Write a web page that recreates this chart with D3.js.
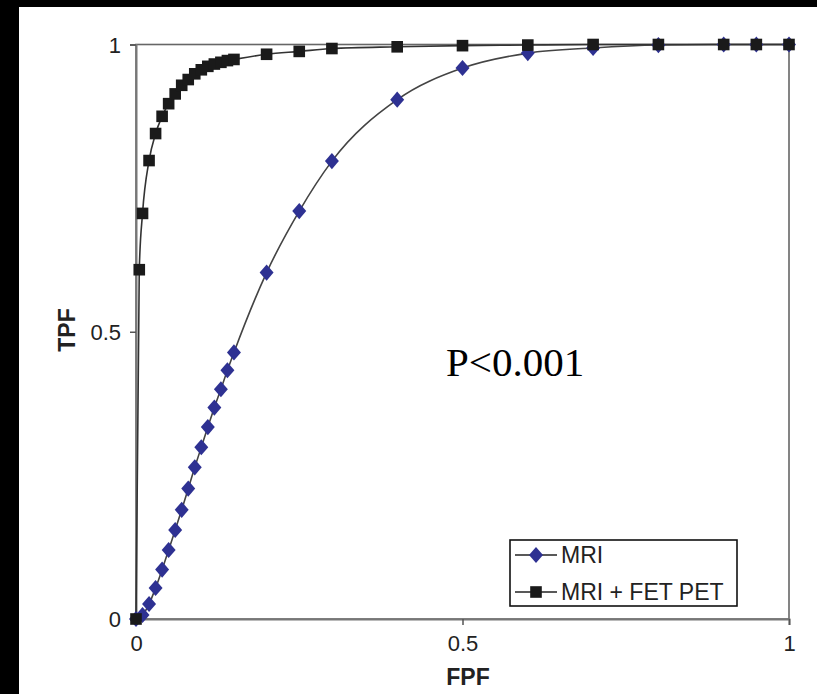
<!DOCTYPE html>
<html>
<head>
<meta charset="utf-8">
<script src="https://cdn.jsdelivr.net/npm/d3@7"></script>
<style>
  body { margin: 0; background: #fff; }
  svg { display: block; }
</style>
</head>
<body>
<div id="chart"></div>
<script>
// FPF / TPF points
const fpfPet = [0, 0.005, 0.01, 0.02, 0.03, 0.04, 0.05, 0.06, 0.07, 0.08, 0.09, 0.10, 0.11, 0.12, 0.13, 0.14, 0.15, 0.2, 0.25, 0.3, 0.4, 0.5, 0.6, 0.7, 0.8, 0.9, 0.95, 1.0];
const tpfPet = [0, 0.608, 0.706, 0.798, 0.845, 0.875, 0.897, 0.914, 0.929, 0.939, 0.949, 0.956, 0.962, 0.966, 0.969, 0.972, 0.974, 0.983, 0.988, 0.993, 0.996, 0.998, 0.999, 1, 1, 1, 1, 1];

const fpfMri = [0, 0.01, 0.02, 0.03, 0.04, 0.05, 0.06, 0.07, 0.08, 0.09, 0.10, 0.11, 0.12, 0.13, 0.14, 0.15, 0.2, 0.25, 0.3, 0.4, 0.5, 0.6, 0.7, 0.8, 0.9, 0.95, 1.0];
const tpfMri = [0, 0.007, 0.026, 0.054, 0.086, 0.12, 0.155, 0.19, 0.227, 0.264, 0.299, 0.334, 0.368, 0.40, 0.433, 0.464, 0.603, 0.71, 0.797, 0.904, 0.959, 0.985, 0.994, 0.999, 1, 1, 1];

const tickValues = [0, 0.5, 1];
const tickLabels = ["0", "0.5", "1"];
const seriesNames = ["MRI", "MRI + FET PET"];

const width = 817, height = 694;
const sans = "'Liberation Sans', Arial, sans-serif";

let svg = d3.select("#chart").append("svg")
    .attr("width", width)
    .attr("height", height);

svg.append("rect").attr("width", width).attr("height", height).attr("fill", "#fff");
// black scan border top/left
svg.append("rect").attr("x", 0).attr("y", 0).attr("width", width).attr("height", 7).attr("fill", "#000");
svg.append("rect").attr("x", 0).attr("y", 0).attr("width", 19).attr("height", height).attr("fill", "#000");

const x = d3.scaleLinear().domain([0, 1]).range([136, 789]);
const y = d3.scaleLinear().domain([0, 1]).range([619, 44.5]);

// plot frame
svg.append("rect")
    .attr("x", x(0)).attr("y", y(1))
    .attr("width", x(1) - x(0)).attr("height", y(0) - y(1))
    .attr("fill", "none")
    .attr("stroke", "#666")
    .attr("stroke-width", 1.6);

// axes
let yAxis = svg.append("g")
    .attr("transform", "translate(" + x(0) + ",0)")
    .call(d3.axisLeft(y).tickValues(tickValues).tickFormat((d, i) => tickLabels[i]).tickSize(6).tickPadding(9));
let xAxis = svg.append("g")
    .attr("transform", "translate(0," + y(0) + ")")
    .call(d3.axisBottom(x).tickValues(tickValues).tickFormat((d, i) => tickLabels[i]).tickSize(6).tickPadding(10));

[xAxis, yAxis].forEach(g => {
    g.select(".domain").attr("stroke", "#777").attr("stroke-width", 2);
    g.selectAll(".tick line").attr("stroke", "#555").attr("stroke-width", 1.5);
    g.selectAll(".tick text")
        .attr("fill", "#222")
        .style("font-family", sans)
        .style("font-size", "22px");
});
yAxis.selectAll(".tick text").attr("dy", "0.36em");

// axis titles
svg.append("text")
    .attr("x", 468).attr("y", 685)
    .attr("text-anchor", "middle")
    .style("font-family", sans).style("font-size", "23px").style("font-weight", "bold")
    .attr("fill", "#222")
    .text("FPF");
svg.append("text")
    .attr("transform", "translate(75,330) rotate(-90)")
    .attr("text-anchor", "middle")
    .style("font-family", sans).style("font-size", "23px").style("font-weight", "bold")
    .attr("fill", "#222")
    .text("TPF");

// curves
const line = d3.line()
    .x(d => x(d[0]))
    .y(d => y(d[1]))
    .curve(d3.curveMonotoneX);

const mriData = fpfMri.map((f, i) => [f, tpfMri[i]]);
const petData = fpfPet.map((f, i) => [f, tpfPet[i]]);

svg.append("path").datum(mriData)
    .attr("d", line).attr("fill", "none")
    .attr("stroke", "#444").attr("stroke-width", 1.6);
svg.append("path").datum(petData)
    .attr("d", line).attr("fill", "none")
    .attr("stroke", "#333").attr("stroke-width", 1.6);

const diamond = d3.symbol().type(d3.symbolDiamond).size(75);
const square = d3.symbol().type(d3.symbolSquare).size(135);

svg.append("g").selectAll("path")
    .data(mriData)
    .enter().append("path")
    .attr("d", diamond)
    .attr("transform", d => "translate(" + x(d[0]) + "," + y(d[1]) + ") scale(1.5,1)")
    .attr("fill", "#2e3192");

svg.append("g").selectAll("path")
    .data(petData)
    .enter().append("path")
    .attr("d", square)
    .attr("transform", d => "translate(" + x(d[0]) + "," + y(d[1]) + ")")
    .attr("fill", "#1a1a1a");

// p-value annotation
svg.append("text")
    .attr("x", 446).attr("y", 376)
    .style("font-family", "'Liberation Serif', 'Times New Roman', serif")
    .style("font-size", "41px")
    .attr("fill", "#000")
    .text("P<0.001");

// legend
let legend = svg.append("g");
legend.append("rect")
    .attr("x", 510).attr("y", 540)
    .attr("width", 227).attr("height", 66)
    .attr("fill", "#fff")
    .attr("stroke", "#111")
    .attr("stroke-width", 1.6);

const rows = [
    {name: seriesNames[0], sym: diamond, fill: "#2e3192", sx: 1.5},
    {name: seriesNames[1], sym: square, fill: "#1a1a1a", sx: 1}
];
let row = legend.selectAll(".row")
    .data(rows)
    .enter().append("g")
    .attr("class", "row")
    .attr("transform", (d, i) => "translate(0," + (555 + i * 37) + ")");
row.append("line")
    .attr("x1", 515).attr("x2", 557)
    .attr("stroke", "#222").attr("stroke-width", 1.6);
row.append("path")
    .attr("d", d => d.sym())
    .attr("transform", d => "translate(536,0) scale(" + d.sx + ",1)")
    .attr("fill", d => d.fill);
row.append("text")
    .attr("x", 561).attr("y", 8)
    .style("font-family", sans).style("font-size", "23px")
    .attr("fill", "#222")
    .text(d => d.name);
</script>
</body>
</html>
